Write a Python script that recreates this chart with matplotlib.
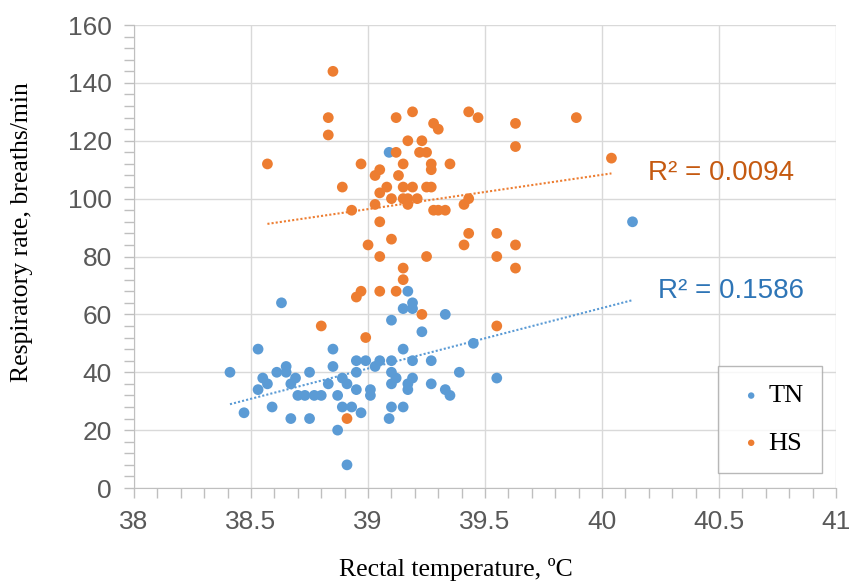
import numpy as np
import matplotlib.pyplot as plt
from matplotlib.ticker import MultipleLocator

# TN group: rectal temperature (ºC) and respiratory rate (breaths/min)
tn_temp = [38.41, 38.47, 38.53, 38.53, 38.55, 38.57, 38.59, 38.61, 38.63, 38.65,
           38.65, 38.67, 38.69, 38.67, 38.70, 38.73, 38.75, 38.75, 38.77, 38.80,
           38.83, 38.85, 38.85, 38.87, 38.87, 38.89, 38.91, 38.89, 38.93, 38.91,
           38.95, 38.95, 38.95, 38.97, 38.99, 39.01, 39.01, 39.03, 39.05, 39.09,
           39.10, 39.10, 39.10, 39.10, 39.10, 39.09, 39.12, 39.15, 39.15, 39.17,
           39.17, 39.19, 39.19, 39.17, 39.15, 39.19, 39.19, 39.23, 39.27, 39.27,
           39.33, 39.33, 39.35, 39.39, 39.45, 39.55, 40.13]
tn_rate = [40, 26, 48, 34, 38, 36, 28, 40, 64, 42,
           40, 36, 38, 24, 32, 32, 40, 24, 32, 32,
           36, 48, 42, 32, 20, 38, 36, 28, 28, 8,
           44, 40, 34, 26, 44, 34, 32, 42, 44, 116,
           58, 44, 40, 36, 28, 24, 38, 48, 28, 36,
           34, 44, 38, 68, 62, 64, 62, 54, 44, 36,
           60, 34, 32, 40, 50, 38, 92]

# HS group
hs_temp = [38.57, 38.80, 38.83, 38.83, 38.85, 38.89, 38.91, 38.93, 38.95, 38.97,
           38.97, 38.99, 39.00, 39.03, 39.03, 39.05, 39.05, 39.05, 39.05, 39.05,
           39.08, 39.10, 39.10, 39.12, 39.12, 39.13, 39.12, 39.15, 39.15, 39.15,
           39.15, 39.15, 39.17, 39.17, 39.17, 39.19, 39.19, 39.21, 39.23, 39.22,
           39.25, 39.25, 39.25, 39.23, 39.27, 39.27, 39.27, 39.28, 39.28, 39.30,
           39.30, 39.33, 39.35, 39.41, 39.41, 39.43, 39.43, 39.43, 39.47, 39.55,
           39.55, 39.55, 39.63, 39.63, 39.63, 39.63, 39.89, 40.04]
hs_rate = [112, 56, 128, 122, 144, 104, 24, 96, 66, 68,
           112, 52, 84, 108, 98, 110, 102, 92, 80, 68,
           104, 100, 86, 128, 116, 108, 68, 112, 104, 100,
           76, 72, 120, 100, 98, 130, 104, 100, 120, 116,
           116, 104, 80, 60, 112, 110, 104, 126, 96, 124,
           96, 96, 112, 98, 84, 130, 100, 88, 128, 88,
           80, 56, 126, 118, 84, 76, 128, 114]

tn_color = '#5B9BD5'
hs_color = '#ED7D31'

plt.rcParams['font.family'] = ['Liberation Sans', 'DejaVu Sans']

fig = plt.figure(figsize=(8.51, 5.82), dpi=100)
ax = fig.add_axes([0.1575, 0.1615, 0.825, 0.7955])

ax.scatter(tn_temp, tn_rate, s=60, color=tn_color, edgecolors='none', zorder=3, label='TN')
ax.scatter(hs_temp, hs_rate, s=60, color=hs_color, edgecolors='none', zorder=4, label='HS')

# linear trend lines over each group's range
for xs, ys, c in [(tn_temp, tn_rate, tn_color), (hs_temp, hs_rate, hs_color)]:
    xs = np.asarray(xs)
    k, b = np.polyfit(xs, ys, 1)
    xl = np.array([xs.min(), xs.max()])
    ax.plot(xl, k * xl + b, color=c, lw=1.5, ls=(0, (1, 1)), zorder=2)

ax.text(40.197, 108.8, 'R² = 0.0094', color='#C55A11', fontsize=20, va='center', ha='left')
ax.text(40.24, 68.1, 'R² = 0.1586', color='#2E75B6', fontsize=20, va='center', ha='left')

ax.set_xlim(38, 41)
ax.set_ylim(0, 160)
ax.xaxis.set_major_locator(MultipleLocator(0.5))
ax.xaxis.set_minor_locator(MultipleLocator(0.1))
ax.yaxis.set_major_locator(MultipleLocator(20))
ax.yaxis.set_minor_locator(MultipleLocator(4))
ax.set_xticks([38, 38.5, 39, 39.5, 40, 40.5, 41])
ax.set_xticklabels(['38', '38.5', '39', '39.5', '40', '40.5', '41'])

ax.grid(True, which='major', color='#D9D9D9', lw=1)
ax.set_axisbelow(True)
for s in ['top', 'right']:
    ax.spines[s].set_visible(False)
for s in ['left', 'bottom']:
    ax.spines[s].set_color('#BFBFBF')
ax.tick_params(which='both', colors='#BFBFBF', length=7, width=1, direction='out')
ax.tick_params(which='major', labelcolor='#595959', labelsize=19)
ax.tick_params(axis='x', which='major', pad=9)
ax.tick_params(axis='y', which='major', pad=9)

ax.set_xlabel('Rectal temperature, ºC', family='Liberation Serif', fontsize=18.5, color='black')
ax.set_ylabel('Respiratory rate, breaths/min', family='Liberation Serif', fontsize=18.5, color='black')
ax.xaxis.set_label_coords(0.459, -0.152)
ax.yaxis.set_label_coords(-0.144, 0.553)

leg = ax.legend(loc='lower right', bbox_to_anchor=(0.98, 0.032), borderaxespad=0,
                prop={'family': 'Liberation Serif', 'size': 19},
                frameon=True, fancybox=False, edgecolor='#A6A6A6', markerscale=0.6,
                handletextpad=0.1, labelspacing=0.9, borderpad=0.7, handlelength=1.1)
leg.get_frame().set_linewidth(1)

fig.savefig('out.png', dpi=100)
